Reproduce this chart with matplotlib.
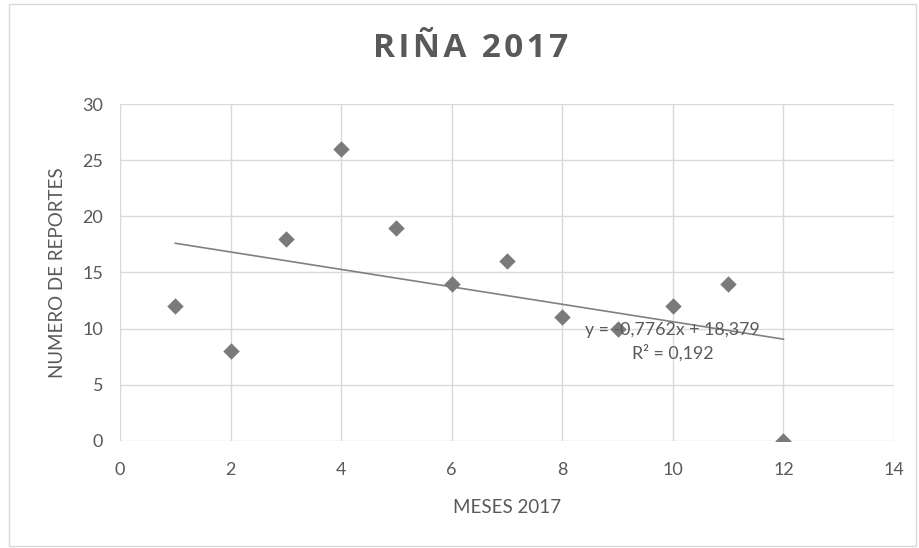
import numpy as np
import matplotlib.pyplot as plt
from matplotlib.patches import Rectangle

plt.rcParams['font.family'] = ['Lato', 'DejaVu Sans']

# data
meses = [1, 2, 3, 4, 5, 6, 7, 8, 9, 10, 11, 12]
reportes = [12, 8, 18, 26, 19, 14, 16, 11, 10, 12, 14, 0]
trend_x = [1, 12]
pendiente = -0.7762
intercepto = 18.379

txt = "#595959"
grid = "#d9d9d9"
pts = "#7a7a7a"

fig = plt.figure(figsize=(9.19, 5.48), dpi=100)
fig.patches.append(Rectangle((9 / 919, 2 / 548), 907 / 919, 542 / 548,
                             transform=fig.transFigure, fill=False,
                             edgecolor=grid, linewidth=1))
ax = fig.add_axes([0.1306, 0.1953, 0.8422, 0.6149])

ax.scatter(meses, reportes, marker="D", s=70, color=pts, zorder=3, linewidths=0)
tx = np.array(trend_x)
ax.plot(tx, pendiente * tx + intercepto, color="#808080", linewidth=1.2, zorder=2)

# trendline label
ax.text(10.0, 9.9, "y = -0,7762x + 18,379", ha="center", va="center",
        fontsize=12.8, color=txt, zorder=4)
ax.text(10.0, 7.85, "R² = 0,192", ha="center", va="center",
        fontsize=12.8, color=txt, zorder=4)

ax.set_xlim(0, 14)
ax.set_ylim(0, 30)
ax.set_xticks(range(0, 15, 2))
ax.set_yticks(range(0, 31, 5))
ax.grid(True, color=grid, linewidth=1)
ax.set_axisbelow(True)
for s in ax.spines.values():
    s.set_visible(False)
ax.tick_params(length=0, labelsize=13, labelcolor=txt, pad=12)
ax.tick_params(axis="x", pad=15)

ax.set_xlabel("MESES 2017", fontsize=13.5, color=txt, labelpad=15)
ax.set_ylabel("NUMERO DE REPORTES", fontsize=13.5, color=txt, labelpad=12)

# title with a bit of letter spacing
titulo = "RIÑA 2017"
fig.text(0.512, 0.912, "\u200a".join(titulo), ha="center", va="center",
         fontsize=24, fontweight="bold", color=txt,
         family=["Open Sans", "DejaVu Sans"])

fig.savefig("out.png", dpi=100)
